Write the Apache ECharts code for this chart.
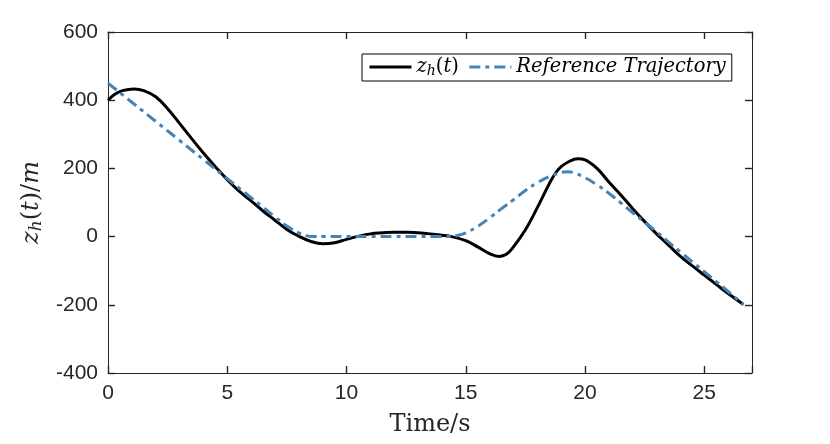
<!DOCTYPE html>
<html>
<head>
<meta charset="utf-8">
<script src="https://cdn.jsdelivr.net/npm/echarts@6/dist/echarts.min.js"></script>
<style>html,body{margin:0;padding:0;background:#fff;}#c{width:830px;height:444px;}</style>
</head>
<body>
<div id="c"></div>
<script>
const tBlack = [0,0.3,0.6,1.1,1.5,2,2.5,3,3.5,4,4.5,5,5.5,6,6.5,7,7.5,8,8.5,9,9.5,10,10.5,11,11.5,12,12.5,13,13.5,14,14.4,15,15.5,16,16.4,16.7,17,17.5,18,18.5,18.75,19,19.35,19.7,20,20.5,21,21.5,22,22.5,23,23.5,24,24.5,25,25.5,26,26.64];
const zBlack = [400,418,428,433,428,410,375,332,288,245,205,167,133,105,75,48,21,1,-14,-21,-18,-8,1,8,11,13,13,11,8,4,0,-12,-30,-50,-58,-52,-30,20,85,155,185,205,221,228,225,200,160,122,82,44,8,-25,-58,-86,-113,-140,-167,-199];
const tRef = [0,1,2,3,4,5,6,6.5,7,7.5,8,8.3,8.6,9,10,11,12,13,14,14.35,14.7,15,15.5,16,16.5,17,17.5,18,18.5,19,19.25,19.5,20,20.5,21,21.5,22,22.5,23,23.5,24,24.5,25,25.5,26,26.64];
const zRef = [450,394,338,282,226,170,114,86,58,31,11,3,0,0,0,0,0,0,0,0,4,11,30,55,82,108,135,158,176,188,190,188,173,152,127,99,70,42,14,-16,-45,-74,-103,-132,-161,-199];
const xTicks = [0,5,10,15,20,25];
const yTicks = [-400,-200,0,200,400,600];

const blackData = tBlack.map((t,i)=>[t,zBlack[i]]);
const refData = tRef.map((t,i)=>[t,zRef[i]]);

const axisColor = '#262626';
const labelFont = {fontFamily:'Liberation Sans, Arial, sans-serif', fontSize:21, color:axisColor};
const serif = 'DejaVu Serif, serif';

const chart = echarts.init(document.getElementById('c'), null, {renderer:'canvas'});
const baseX = {type:'value', min:0, max:27, interval:5,
  axisLine:{show:true, onZero:false, lineStyle:{color:axisColor, width:1}},
  axisTick:{show:true, inside:true, length:7, lineStyle:{color:axisColor, width:1.4}},
  splitLine:{show:false}};
const baseY = {type:'value', min:-400, max:600, interval:200,
  axisLine:{show:true, onZero:false, lineStyle:{color:axisColor, width:1}},
  axisTick:{show:true, inside:true, length:7, lineStyle:{color:axisColor, width:1.4}},
  splitLine:{show:false}};

chart.setOption({
  animation:false,
  backgroundColor:'#fff',
  grid:{left:108, right:78, top:32, bottom:71, containLabel:false},
  xAxis:[
    Object.assign({}, baseX, {position:'bottom',
      axisLabel:Object.assign({}, labelFont, {margin:10, formatter:v=> xTicks.indexOf(v)>=0 ? String(v) : ''}),
      name:'Time/s', nameLocation:'middle', nameGap:40,
      nameTextStyle:{fontFamily:serif, fontSize:24, color:axisColor, verticalAlign:'top'}}),
    Object.assign({}, baseX, {position:'top', axisLabel:{show:false}})
  ],
  yAxis:[
    Object.assign({}, baseY, {position:'left',
      axisLabel:Object.assign({}, labelFont, {margin:10, formatter:v=> yTicks.indexOf(v)>=0 ? String(v) : ''}),
      name:'{i|z}{s|h}{n|(}{i|t}{n|)/}{i|m}', nameLocation:'middle', nameGap:60, nameRotate:90,
      nameTextStyle:{color:axisColor, rich:{
        i:{fontFamily:serif, fontStyle:'italic', fontSize:24, color:axisColor},
        s:{fontFamily:serif, fontStyle:'italic', fontSize:17, color:axisColor, padding:[10,0,0,0]},
        n:{fontFamily:serif, fontSize:24, color:axisColor}}}}),
    Object.assign({}, baseY, {position:'right', axisLabel:{show:false}})
  ],
  legend:{
    show:true, left:362, top:54, orient:'horizontal',
    padding:[3,6,3,6], itemGap:9, itemWidth:42, itemHeight:14,
    backgroundColor:'#fff', borderColor:'#000', borderWidth:1, borderRadius:0,
    lineStyle:{width:3},
    itemStyle:{opacity:0},
    data:['z_h(t)','Reference Trajectory'],
    formatter:function(name){
      if(name==='z_h(t)') return '{i|z}{s|h}{n|(}{i|t}{n|)}';
      return '{i|Reference Trajectory}';
    },
    textStyle:{color:'#000', padding:[0,0,0,0], rich:{
      i:{fontFamily:serif, fontStyle:'italic', fontSize:19.5, color:'#000'},
      s:{fontFamily:serif, fontStyle:'italic', fontSize:14, color:'#000', padding:[8,0,0,0]},
      n:{fontFamily:serif, fontSize:19.5, color:'#000'}}}
  },
  series:[
    {name:'z_h(t)', type:'line', data:blackData, smooth:0.4, showSymbol:false, symbol:'none',
      lineStyle:{color:'#000', width:3}, itemStyle:{color:'#000'}, z:2},
    {name:'Reference Trajectory', type:'line', data:refData, smooth:0.4, showSymbol:false, symbol:'none',
      lineStyle:{color:'#4682B4', width:3, type:[11,5,4,5]}, itemStyle:{color:'#4682B4'}, z:3}
  ]
});
</script>
</body>
</html>
